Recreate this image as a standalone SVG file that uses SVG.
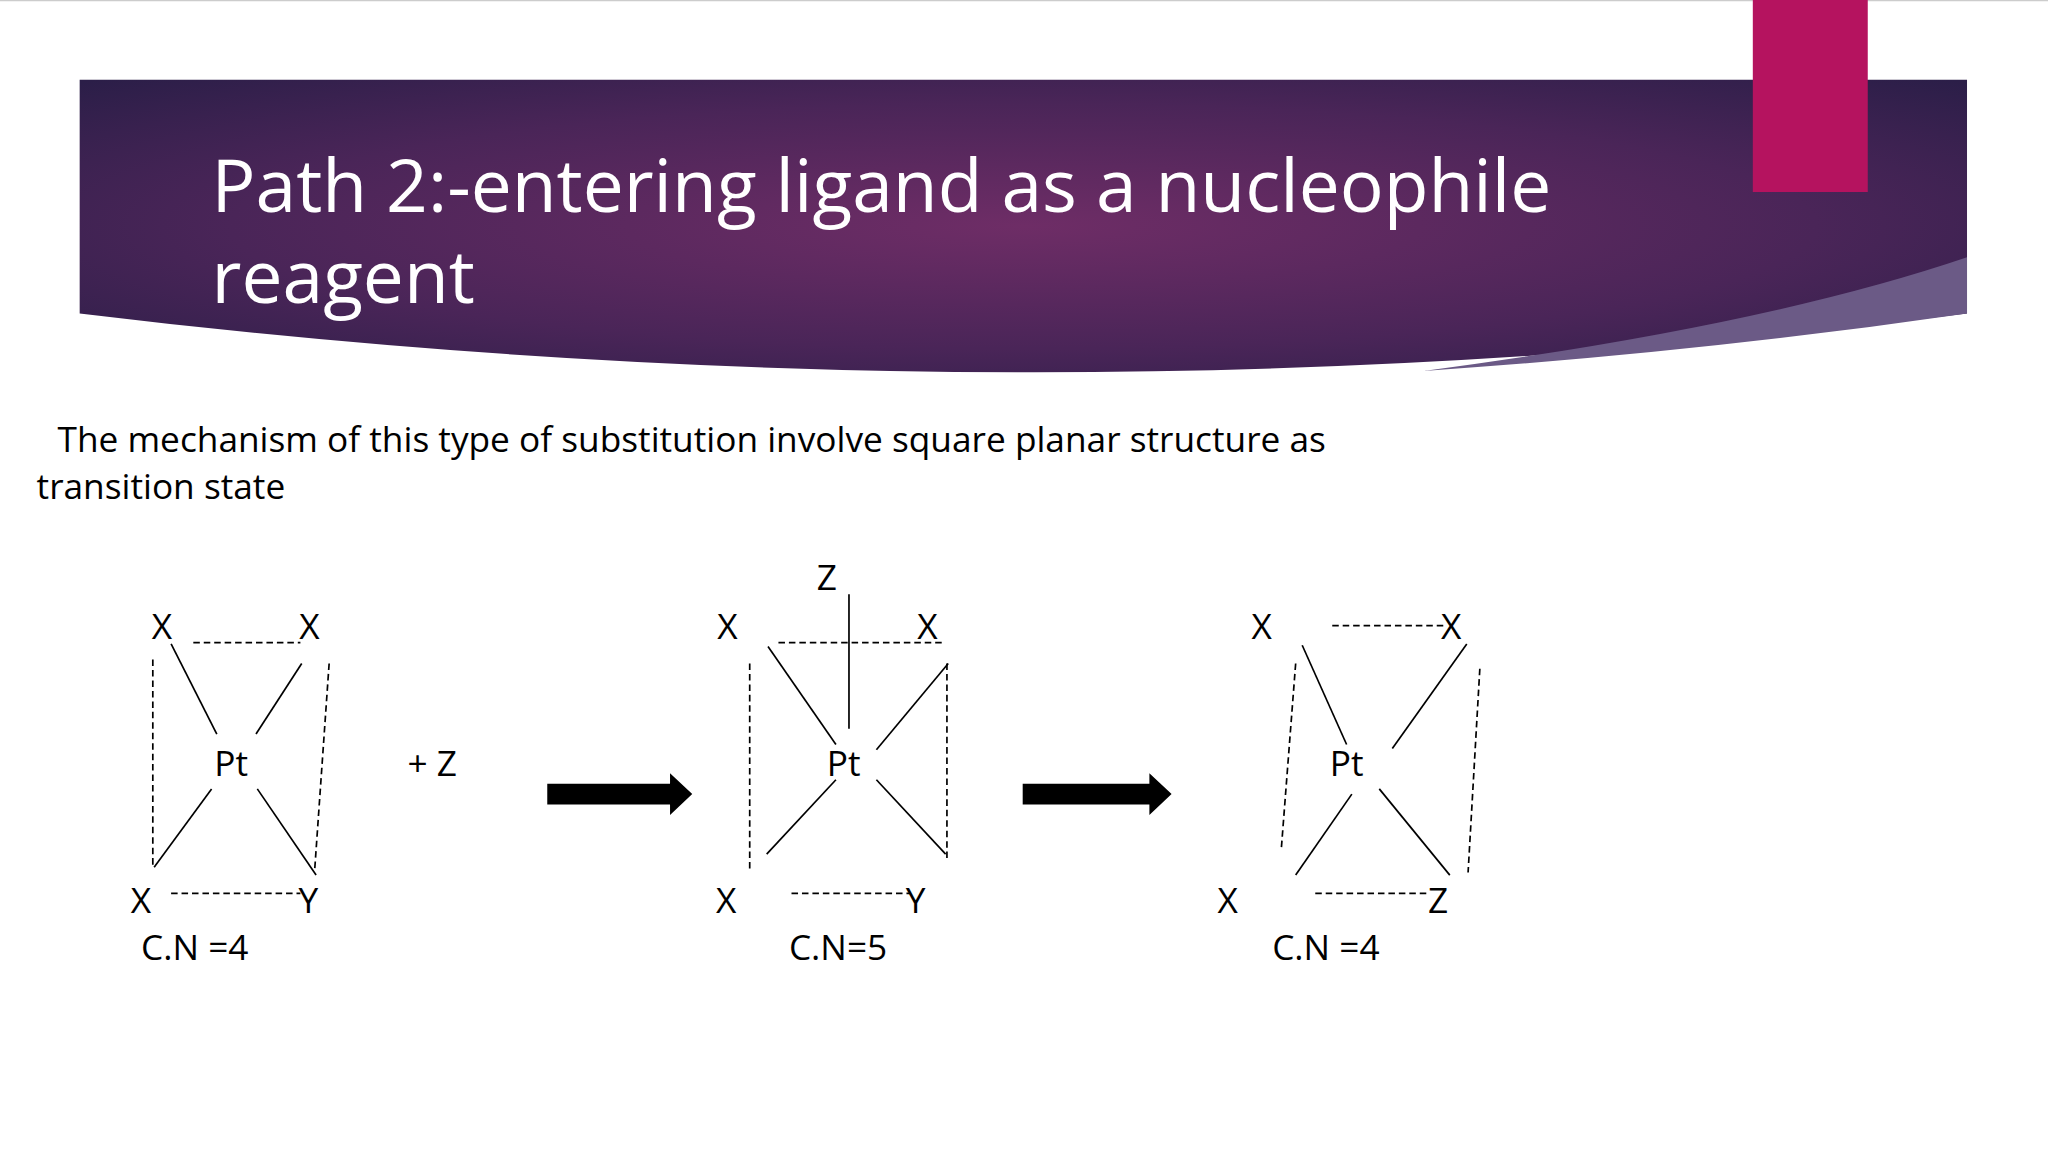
<svg xmlns="http://www.w3.org/2000/svg" width="2048" height="1152" viewBox="0 0 2048 1152">
<defs>
<radialGradient id="hg" cx="0.5" cy="0.5" r="0.7">
<stop offset="0" stop-color="#6e2d66"/>
<stop offset="0.6" stop-color="#4a2558"/>
<stop offset="1" stop-color="#2b1e48"/>
</radialGradient>
<style>
.t{font-family:"Open Sans","Noto Sans",sans-serif;fill:#000}
.ti{font-family:"Open Sans","Noto Sans",sans-serif;fill:#fff;font-size:56px}
.d{font-size:27px}
.s{stroke:#000;stroke-width:1.3;fill:none}
.ds{stroke:#000;stroke-width:1.3;fill:none;stroke-dasharray:5 3}
</style>
</defs>
<rect width="2048" height="1152" fill="#fff"/>
<g transform="scale(1.30612)">
<line x1="0" y1="0.5" x2="1568" y2="0.5" stroke="#ccc"/>
<g id="header">
<path d="M61 61 H1506 V240 Q800 330 61 240 Z" fill="url(#hg)"/>
<path d="M1090 284 Q1350 250 1506 197 V240 Q1300 270 1090 284 Z" fill="#6b5a86"/>
<rect x="1342" y="0" width="88" height="147" fill="#b5135f"/>
<text class="ti" x="162" y="162">Path 2:-entering ligand as a nucleophile</text>
<text class="ti" x="162" y="232">reagent</text>
</g>
<g id="body">
<text class="t d" x="44" y="346">The mechanism of this type of substitution involve square planar structure as</text>
<text class="t d" x="28" y="382">transition state</text>
</g>
<g id="reactant" class="t d">
<text x="124" y="489" text-anchor="middle">X</text>
<text x="237" y="489" text-anchor="middle">X</text>
<text x="177" y="594" text-anchor="middle">Pt</text>
<text x="108" y="699" text-anchor="middle">X</text>
<text x="236" y="699" text-anchor="middle">Y</text>
<text x="108" y="735">C.N =4</text>
<text x="312" y="594">+ Z</text>
</g>
<g id="intermediate" class="t d">
<text x="633" y="452" text-anchor="middle">Z</text>
<text x="557" y="489" text-anchor="middle">X</text>
<text x="710" y="489" text-anchor="middle">X</text>
<text x="646" y="594" text-anchor="middle">Pt</text>
<text x="556" y="699" text-anchor="middle">X</text>
<text x="701" y="699" text-anchor="middle">Y</text>
<text x="604" y="735">C.N=5</text>
</g>
<g id="product" class="t d">
<text x="966" y="489" text-anchor="middle">X</text>
<text x="1111" y="489" text-anchor="middle">X</text>
<text x="1031" y="594" text-anchor="middle">Pt</text>
<text x="940" y="699" text-anchor="middle">X</text>
<text x="1101" y="699" text-anchor="middle">Z</text>
<text x="974" y="735">C.N =4</text>
</g>
<g id="connectors">
<line class="ds" x1="148" y1="492" x2="230" y2="492"/>
<line class="ds" x1="117" y1="505" x2="117" y2="665"/>
<line class="ds" x1="252" y1="508" x2="241" y2="665"/>
<line class="s" x1="131" y1="493" x2="166" y2="562"/>
<line class="s" x1="231" y1="508" x2="196" y2="562"/>
<line class="s" x1="162" y1="604" x2="118" y2="664"/>
<line class="s" x1="197" y1="604" x2="242" y2="670"/>
<line class="ds" x1="131" y1="684" x2="230" y2="684"/>
<path d="M419 600 H513 V592 L530 608 L513 624 V616 H419 Z" fill="#000"/>
<line class="s" x1="650" y1="455" x2="650" y2="558"/>
<line class="ds" x1="596" y1="492" x2="724" y2="492"/>
<line class="ds" x1="574" y1="508" x2="574" y2="665"/>
<line class="ds" x1="725" y1="508" x2="725" y2="660"/>
<line class="s" x1="588" y1="495" x2="640" y2="570"/>
<line class="s" x1="726" y1="508" x2="671" y2="574"/>
<line class="s" x1="640" y1="597" x2="587" y2="654"/>
<line class="s" x1="671" y1="597" x2="724" y2="654"/>
<line class="ds" x1="606" y1="684" x2="697" y2="684"/>
<path d="M783 600 H880 V592 L897 608 L880 624 V616 H783 Z" fill="#000"/>
<line class="ds" x1="1020" y1="479" x2="1105" y2="479"/>
<line class="ds" x1="992" y1="508" x2="981" y2="650"/>
<line class="ds" x1="1133" y1="512" x2="1124" y2="668"/>
<line class="s" x1="997" y1="494" x2="1031" y2="570"/>
<line class="s" x1="1123" y1="493" x2="1066" y2="573"/>
<line class="s" x1="1035" y1="608" x2="992" y2="670"/>
<line class="s" x1="1056" y1="604" x2="1110" y2="670"/>
<line class="ds" x1="1007" y1="684" x2="1093" y2="684"/>
</g>
</g>
</svg>
